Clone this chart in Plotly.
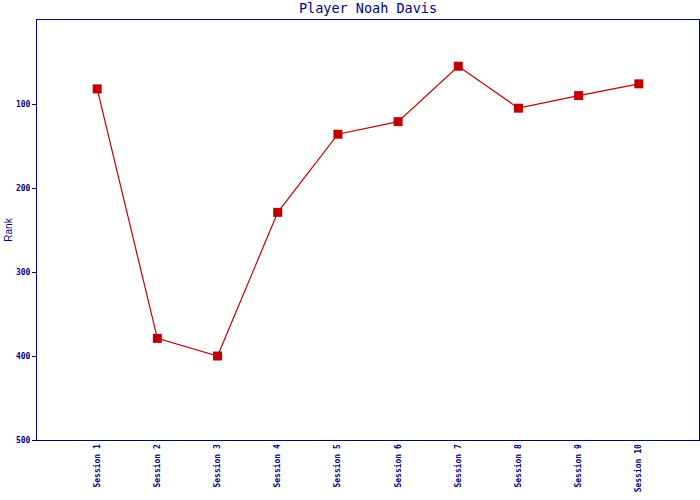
import plotly.graph_objects as go

sessions = ["Session 1", "Session 2", "Session 3", "Session 4", "Session 5",
            "Session 6", "Session 7", "Session 8", "Session 9", "Session 10"]
ranks = [82, 379, 400, 229, 136, 121, 55, 105, 90, 76]
y_ticks = [100, 200, 300, 400, 500]

navy = "#000080"
red = "#c00000"

fig = go.Figure()
fig.add_trace(go.Scatter(
    x=sessions, y=ranks, mode="lines+markers",
    line=dict(color=red, width=1.2),
    marker=dict(symbol="square", size=9, color=red),
    showlegend=False,
))

fig.update_layout(
    width=700, height=500,
    margin=dict(l=37, r=1, t=20, b=60, autoexpand=False),
    paper_bgcolor="white", plot_bgcolor="white",
    title=dict(text="Player Noah Davis", xref="paper", x=0.5, xanchor="center",
               y=0.984, yanchor="middle",
               font=dict(family="DejaVu Sans Mono", size=13.5, color=navy)),
    xaxis=dict(
        range=[-1, 10], showgrid=False, zeroline=False, automargin=False,
        showline=True, linecolor=navy, linewidth=1, mirror=True,
        ticks="", tickangle=-90,
        tickvals=sessions, ticktext=[f"<b>{s}</b>" for s in sessions],
        tickfont=dict(family="DejaVu Sans Mono", size=8, color=navy),
    ),
    yaxis=dict(
        range=[500, 0], showgrid=False, zeroline=False, automargin=False,
        showline=True, linecolor=navy, linewidth=1, mirror=True,
        tickvals=y_ticks, ticktext=[f"<b>{v}</b>" for v in y_ticks],
        ticks="outside", ticklen=4, tickcolor=navy,
        tickfont=dict(family="DejaVu Sans Mono", size=8, color=navy),
        title=dict(text="Rank", font=dict(family="Liberation Sans", size=10, color=navy), standoff=1),
    ),
)

fig.write_html("out.html", config={"displayModeBar": False},
               post_script="document.body.style.margin='0';document.body.style.overflow='hidden';")
